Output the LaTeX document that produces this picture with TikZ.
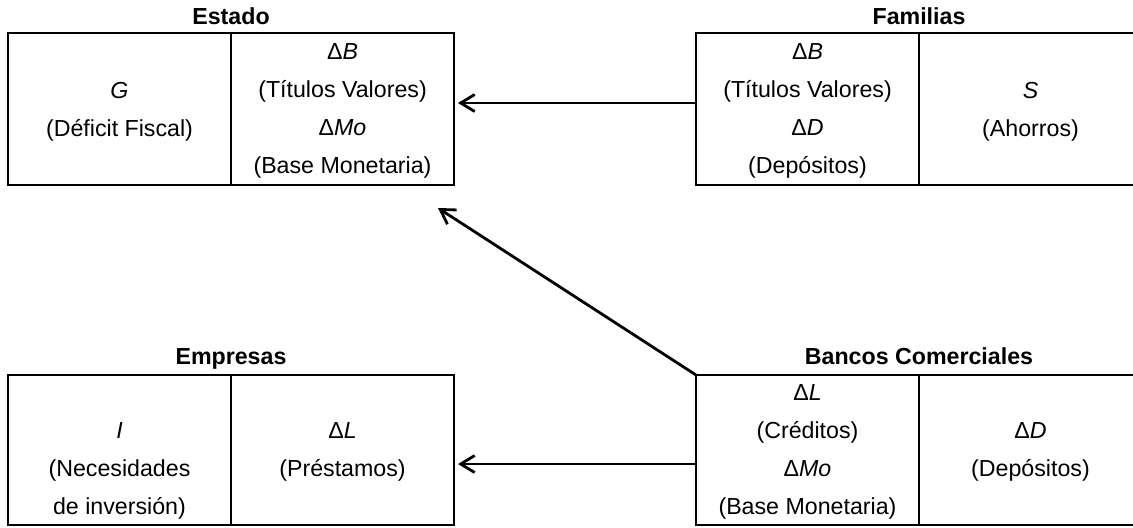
\documentclass[tikz,border=0pt]{standalone}
\usepackage{fontspec}
\setmainfont{Liberation Sans}
\usetikzlibrary{arrows.meta,calc,positioning}

\begin{document}
\begin{tikzpicture}[x=.5pt,y=-.5pt,
  cell/.style={draw,line width=1.2pt,outer sep=0pt,minimum width=111.5pt,minimum height=76pt,
    align=center,font=\fontsize{11.6}{19}\selectfont,text depth=-7pt},
  acct/.style={font=\fontsize{11.6}{14}\selectfont\bfseries,inner sep=0pt,text depth=0pt},
  flow/.style={line width=1.4pt,-{Straight Barb[length=7pt,width=8.5pt]}}]
\useasboundingbox (0,0) rectangle (1133,527);
\node[cell] (estL) at (119.5,109) {\textit{G}\\(Déficit Fiscal)};
\node[cell,right=0pt of estL] (estR) {Δ\textit{B}\\(Títulos Valores)\\Δ\textit{Mo}\\(Base Monetaria)};
\node[cell,right=121pt of estR] (famL) {Δ\textit{B}\\(Títulos Valores)\\Δ\textit{D}\\(Depósitos)};
\node[cell,right=0pt of famL] (famR) {\textit{S}\\(Ahorros)};
\node[cell,minimum height=75pt,below=95pt of estL] (empL) {\vphantom{I}\\\textit{I}\\(Necesidades\\de inversión)};
\node[cell,minimum height=75pt,right=0pt of empL] (empR) {Δ\textit{L}\\(Préstamos)};
\node[cell,minimum height=75pt,right=121pt of empR] (banL) {Δ\textit{L}\\(Créditos)\\Δ\textit{Mo}\\(Base Monetaria)};
\node[cell,minimum height=75pt,right=0pt of banL] (banR) {Δ\textit{D}\\(Depósitos)};
\node[acct,above=4pt of estL.north east] (estT) {Estado};
\node[acct,above=4pt of famL.north east] (famT) {Familias};
\node[acct,above=5pt of empL.north east] (empT) {Empresas};
\node[acct,above=5pt of banL.north east] (banT) {Bancos Comerciales};
\coordinate (tipA) at ($(estR.east)+(2pt,3pt)$);
\coordinate (tipB) at ($(estR.south east)+(-8pt,-11.5pt)$);
\coordinate (tipC) at ($(empR.east)+(2pt,-7pt)$);
\draw[flow] (famL.west |- tipA) -- (tipA);
\draw[flow] (banL.north west) -- (tipB);
\draw[flow] (banL.west |- tipC) -- (tipC);
\end{tikzpicture}
\end{document}
